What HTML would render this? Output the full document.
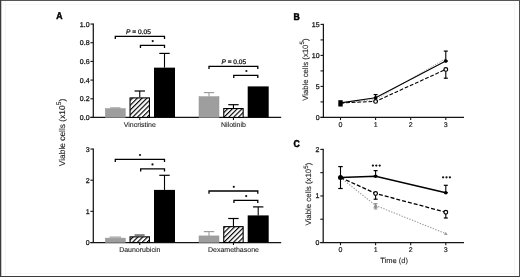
<!DOCTYPE html>
<html><head><meta charset="utf-8"><style>
html,body{margin:0;padding:0;background:#fff;}
body{width:520px;height:277px;overflow:hidden;}
svg{display:block;font-family:"Liberation Sans", sans-serif;filter:grayscale(1);text-rendering:geometricPrecision;}
</style></head><body>
<svg width="520" height="277" viewBox="0 0 520 277">
<defs>
<pattern id="hatch" patternUnits="userSpaceOnUse" width="3.4" height="3.4" patternTransform="translate(-1 0) rotate(45)">
<rect width="3.4" height="3.4" fill="#fff"/><rect width="1.15" height="3.4" fill="#000"/>
</pattern>
</defs>
<rect x="0" y="0" width="520" height="277" fill="#fff"/>
<g stroke-width="1"><line x1="1" y1="4.5" x2="519" y2="4.5" stroke="#f8f8f8"/><line x1="5.5" y1="1" x2="5.5" y2="276" stroke="#f6f6f6"/><line x1="514.5" y1="1" x2="514.5" y2="276" stroke="#f5f5f5"/><line x1="1" y1="273.5" x2="519" y2="273.5" stroke="#f9f9f9"/><line x1="1.5" y1="1" x2="1.5" y2="276" stroke="#c8c8c8"/></g>
<line x1="93.3" y1="23.45" x2="93.3" y2="117.45" stroke="#141414" stroke-width="1.25" />
<line x1="90.4" y1="117.45" x2="93.3" y2="117.45" stroke="#141414" stroke-width="1.1" />
<text x="89.6" y="119.9" font-size="7" text-anchor="end" font-weight="normal" fill="#1e1e1e" stroke="#1e1e1e" stroke-width="0.3" >0.0</text>
<line x1="90.4" y1="98.77" x2="93.3" y2="98.77" stroke="#141414" stroke-width="1.1" />
<text x="89.6" y="101.22" font-size="7" text-anchor="end" font-weight="normal" fill="#1e1e1e" stroke="#1e1e1e" stroke-width="0.3" >0.2</text>
<line x1="90.4" y1="80.09" x2="93.3" y2="80.09" stroke="#141414" stroke-width="1.1" />
<text x="89.6" y="82.54" font-size="7" text-anchor="end" font-weight="normal" fill="#1e1e1e" stroke="#1e1e1e" stroke-width="0.3" >0.4</text>
<line x1="90.4" y1="61.41" x2="93.3" y2="61.41" stroke="#141414" stroke-width="1.1" />
<text x="89.6" y="63.86" font-size="7" text-anchor="end" font-weight="normal" fill="#1e1e1e" stroke="#1e1e1e" stroke-width="0.3" >0.6</text>
<line x1="90.4" y1="42.73" x2="93.3" y2="42.73" stroke="#141414" stroke-width="1.1" />
<text x="89.6" y="45.18" font-size="7" text-anchor="end" font-weight="normal" fill="#1e1e1e" stroke="#1e1e1e" stroke-width="0.3" >0.8</text>
<line x1="90.4" y1="24.05" x2="93.3" y2="24.05" stroke="#141414" stroke-width="1.1" />
<text x="89.6" y="26.5" font-size="7" text-anchor="end" font-weight="normal" fill="#1e1e1e" stroke="#1e1e1e" stroke-width="0.3" >1.0</text>
<line x1="90.4" y1="117.45" x2="281.2" y2="117.45" stroke="#141414" stroke-width="1.25" />
<line x1="93.3" y1="148.45" x2="93.3" y2="242.5" stroke="#141414" stroke-width="1.25" />
<line x1="90.4" y1="242.5" x2="93.3" y2="242.5" stroke="#141414" stroke-width="1.1" />
<text x="89.6" y="244.95" font-size="7" text-anchor="end" font-weight="normal" fill="#1e1e1e" stroke="#1e1e1e" stroke-width="0.3" >0</text>
<line x1="90.4" y1="211.35" x2="93.3" y2="211.35" stroke="#141414" stroke-width="1.1" />
<text x="89.6" y="213.8" font-size="7" text-anchor="end" font-weight="normal" fill="#1e1e1e" stroke="#1e1e1e" stroke-width="0.3" >1</text>
<line x1="90.4" y1="180.2" x2="93.3" y2="180.2" stroke="#141414" stroke-width="1.1" />
<text x="89.6" y="182.65" font-size="7" text-anchor="end" font-weight="normal" fill="#1e1e1e" stroke="#1e1e1e" stroke-width="0.3" >2</text>
<line x1="90.4" y1="149.05" x2="93.3" y2="149.05" stroke="#141414" stroke-width="1.1" />
<text x="89.6" y="151.5" font-size="7" text-anchor="end" font-weight="normal" fill="#1e1e1e" stroke="#1e1e1e" stroke-width="0.3" >3</text>
<line x1="90.4" y1="242.5" x2="281.2" y2="242.5" stroke="#141414" stroke-width="1.25" />
<line x1="115.3" y1="107.9" x2="115.3" y2="108.6" stroke="#9e9e9e" stroke-width="1.1" />
<line x1="110.1" y1="107.9" x2="120.5" y2="107.9" stroke="#9e9e9e" stroke-width="1.2" />
<rect x="105.3" y="108.6" width="20" height="8.85" fill="#9e9e9e" stroke="#979797" stroke-width="0.5"/>
<line x1="139.75" y1="91" x2="139.75" y2="97.35" stroke="#000" stroke-width="1.1" />
<line x1="134.55" y1="91" x2="144.95" y2="91" stroke="#000" stroke-width="1.2" />
<rect x="130.05" y="97.9" width="19.4" height="19.55" fill="url(#hatch)" stroke="#000" stroke-width="1.1"/>
<line x1="164.5" y1="53.4" x2="164.5" y2="67.65" stroke="#000" stroke-width="1.1" />
<line x1="159.3" y1="53.4" x2="169.7" y2="53.4" stroke="#000" stroke-width="1.2" />
<rect x="154" y="67.65" width="21" height="49.8" fill="#000"/>
<path d="M115.3 39V36.3H164.5V39" fill="none" stroke="#000" stroke-width="1.3"/>
<path d="M140.45 48V45.3H164.5V48" fill="none" stroke="#000" stroke-width="1.3"/>
<text x="138.5" y="34.0" font-size="6.6" text-anchor="middle" fill="#1e1e1e" stroke="#1e1e1e" stroke-width="0.3"><tspan font-style="italic">P</tspan> = 0.05</text>
<circle cx="152.7" cy="41.1" r="1.1" fill="#111"/>
<line x1="209" y1="92.6" x2="209" y2="96.6" stroke="#9e9e9e" stroke-width="1.1" />
<line x1="203.8" y1="92.6" x2="214.2" y2="92.6" stroke="#9e9e9e" stroke-width="1.2" />
<rect x="199" y="96.6" width="20" height="20.85" fill="#9e9e9e" stroke="#979797" stroke-width="0.5"/>
<line x1="233.45" y1="104.7" x2="233.45" y2="108" stroke="#000" stroke-width="1.1" />
<line x1="228.25" y1="104.7" x2="238.65" y2="104.7" stroke="#000" stroke-width="1.2" />
<rect x="223.75" y="108.55" width="19.4" height="8.9" fill="url(#hatch)" stroke="#000" stroke-width="1.1"/>
<rect x="247.7" y="86.4" width="21" height="31.05" fill="#000"/>
<path d="M209 69V66.3H257.8V69" fill="none" stroke="#000" stroke-width="1.3"/>
<path d="M233.75 78.1V75.4H257.8V78.1" fill="none" stroke="#000" stroke-width="1.3"/>
<text x="233.8" y="64.0" font-size="6.6" text-anchor="middle" fill="#1e1e1e" stroke="#1e1e1e" stroke-width="0.3"><tspan font-style="italic">P</tspan> = 0.05</text>
<circle cx="246.4" cy="71" r="1.1" fill="#111"/>
<rect x="105.3" y="238.1" width="20" height="4.4" fill="#9e9e9e" stroke="#979797" stroke-width="0.5"/>
<rect x="130.05" y="236.85" width="19.4" height="5.65" fill="url(#hatch)" stroke="#000" stroke-width="1.1"/>
<line x1="164.5" y1="175.3" x2="164.5" y2="189.9" stroke="#000" stroke-width="1.1" />
<line x1="159.3" y1="175.3" x2="169.7" y2="175.3" stroke="#000" stroke-width="1.2" />
<rect x="154" y="189.9" width="21" height="52.6" fill="#000"/>
<rect x="109.5" y="236.4" width="11.6" height="1.8" fill="#b4b4b4"/>
<rect x="134.6" y="234.4" width="10" height="1.3" fill="#4a4a4a"/>
<path d="M115.3 162V159.3H164.5V162" fill="none" stroke="#000" stroke-width="1.3"/>
<path d="M140.65 171.5V168.8H164.5V171.5" fill="none" stroke="#000" stroke-width="1.3"/>
<circle cx="140" cy="155" r="1.1" fill="#111"/>
<circle cx="152.5" cy="164.4" r="1.1" fill="#111"/>
<line x1="209" y1="231.6" x2="209" y2="235.9" stroke="#9e9e9e" stroke-width="1.1" />
<line x1="203.8" y1="231.6" x2="214.2" y2="231.6" stroke="#9e9e9e" stroke-width="1.2" />
<rect x="199" y="235.9" width="20" height="6.6" fill="#9e9e9e" stroke="#979797" stroke-width="0.5"/>
<line x1="233.45" y1="218.5" x2="233.45" y2="226.1" stroke="#000" stroke-width="1.1" />
<line x1="228.25" y1="218.5" x2="238.65" y2="218.5" stroke="#000" stroke-width="1.2" />
<rect x="223.75" y="226.65" width="19.4" height="15.85" fill="url(#hatch)" stroke="#000" stroke-width="1.1"/>
<line x1="258.2" y1="206.9" x2="258.2" y2="215.4" stroke="#000" stroke-width="1.1" />
<line x1="253" y1="206.9" x2="263.4" y2="206.9" stroke="#000" stroke-width="1.2" />
<rect x="247.7" y="215.4" width="21" height="27.1" fill="#000"/>
<path d="M209 193.7V191H257.8V193.7" fill="none" stroke="#000" stroke-width="1.3"/>
<path d="M233.95 203.1V200.4H257.8V203.1" fill="none" stroke="#000" stroke-width="1.3"/>
<circle cx="233.8" cy="186.8" r="1.1" fill="#111"/>
<circle cx="246.2" cy="196.1" r="1.1" fill="#111"/>
<line x1="139.75" y1="117.45" x2="139.75" y2="120.05" stroke="#141414" stroke-width="1.1" />
<text x="139.75" y="127.35" font-size="7" text-anchor="middle" font-weight="normal" fill="#1e1e1e" stroke="#1e1e1e" stroke-width="0.1" >Vincristine</text>
<line x1="233.45" y1="117.45" x2="233.45" y2="120.05" stroke="#141414" stroke-width="1.1" />
<text x="233.45" y="127.35" font-size="7" text-anchor="middle" font-weight="normal" fill="#1e1e1e" stroke="#1e1e1e" stroke-width="0.1" >Nilotinib</text>
<line x1="139.75" y1="242.5" x2="139.75" y2="245.1" stroke="#141414" stroke-width="1.1" />
<text x="139.75" y="252.4" font-size="7" text-anchor="middle" font-weight="normal" fill="#1e1e1e" stroke="#1e1e1e" stroke-width="0.1" >Daunorubicin</text>
<line x1="233.45" y1="242.5" x2="233.45" y2="245.1" stroke="#141414" stroke-width="1.1" />
<text x="233.45" y="252.4" font-size="7" text-anchor="middle" font-weight="normal" fill="#1e1e1e" stroke="#1e1e1e" stroke-width="0.1" >Dexamethasone</text>
<text transform="translate(65 132.5) rotate(-90)" font-size="8.4" text-anchor="middle" fill="#1e1e1e" stroke="#1e1e1e" stroke-width="0.12">Viable cells (x10<tspan font-size="6.72" dy="-3.78">5</tspan><tspan dy="3.78">)</tspan></text>
<text transform="translate(56.3 19.3) scale(0.88 1)" font-size="9.9" font-weight="bold" fill="#000" stroke="#000" stroke-width="0.5">A</text>
<text transform="translate(293.6 19.7) scale(0.88 1)" font-size="9.9" font-weight="bold" fill="#000" stroke="#000" stroke-width="0.5">B</text>
<text transform="translate(293.5 147.1) scale(0.88 1)" font-size="9.9" font-weight="bold" fill="#000" stroke="#000" stroke-width="0.5">C</text>
<line x1="323.4" y1="23.8" x2="323.4" y2="117.4" stroke="#141414" stroke-width="1.25" />
<line x1="320.5" y1="117.4" x2="323.4" y2="117.4" stroke="#141414" stroke-width="1.1" />
<text x="319.6" y="119.85" font-size="7" text-anchor="end" font-weight="normal" fill="#1e1e1e" stroke="#1e1e1e" stroke-width="0.3" >0</text>
<line x1="320.5" y1="101.9" x2="323.4" y2="101.9" stroke="#141414" stroke-width="1.1" />
<line x1="320.5" y1="86.4" x2="323.4" y2="86.4" stroke="#141414" stroke-width="1.1" />
<text x="319.6" y="88.85" font-size="7" text-anchor="end" font-weight="normal" fill="#1e1e1e" stroke="#1e1e1e" stroke-width="0.3" >5</text>
<line x1="320.5" y1="70.9" x2="323.4" y2="70.9" stroke="#141414" stroke-width="1.1" />
<line x1="320.5" y1="55.4" x2="323.4" y2="55.4" stroke="#141414" stroke-width="1.1" />
<text x="319.6" y="57.85" font-size="7" text-anchor="end" font-weight="normal" fill="#1e1e1e" stroke="#1e1e1e" stroke-width="0.3" >10</text>
<line x1="320.5" y1="39.9" x2="323.4" y2="39.9" stroke="#141414" stroke-width="1.1" />
<line x1="320.5" y1="24.4" x2="323.4" y2="24.4" stroke="#141414" stroke-width="1.1" />
<text x="319.6" y="26.85" font-size="7" text-anchor="end" font-weight="normal" fill="#1e1e1e" stroke="#1e1e1e" stroke-width="0.3" >15</text>
<line x1="320.5" y1="117.4" x2="464" y2="117.4" stroke="#141414" stroke-width="1.25" />
<line x1="340.5" y1="117.4" x2="340.5" y2="120.1" stroke="#141414" stroke-width="1.1" />
<text x="340.5" y="127" font-size="7" text-anchor="middle" font-weight="normal" fill="#1e1e1e" stroke="#1e1e1e" stroke-width="0.2" >0</text>
<line x1="375.6" y1="117.4" x2="375.6" y2="120.1" stroke="#141414" stroke-width="1.1" />
<text x="375.6" y="127" font-size="7" text-anchor="middle" font-weight="normal" fill="#1e1e1e" stroke="#1e1e1e" stroke-width="0.2" >1</text>
<line x1="410.7" y1="117.4" x2="410.7" y2="120.1" stroke="#141414" stroke-width="1.1" />
<text x="410.7" y="127" font-size="7" text-anchor="middle" font-weight="normal" fill="#1e1e1e" stroke="#1e1e1e" stroke-width="0.2" >2</text>
<line x1="445.8" y1="117.4" x2="445.8" y2="120.1" stroke="#141414" stroke-width="1.1" />
<text x="445.8" y="127" font-size="7" text-anchor="middle" font-weight="normal" fill="#1e1e1e" stroke="#1e1e1e" stroke-width="0.2" >3</text>
<text transform="translate(307.6 69.7) rotate(-90)" font-size="7.75" text-anchor="middle" fill="#1e1e1e" stroke="#1e1e1e" stroke-width="0.12">Viable cells (x10<tspan font-size="6.2" dy="-3.49">5</tspan><tspan dy="3.49">)</tspan></text>
<line x1="323.2" y1="148.8" x2="323.2" y2="242.5" stroke="#141414" stroke-width="1.25" />
<line x1="320.3" y1="242.5" x2="323.2" y2="242.5" stroke="#141414" stroke-width="1.1" />
<text x="319.4" y="244.95" font-size="7" text-anchor="end" font-weight="normal" fill="#1e1e1e" stroke="#1e1e1e" stroke-width="0.3" >0</text>
<line x1="320.3" y1="219.22" x2="323.2" y2="219.22" stroke="#141414" stroke-width="1.1" />
<line x1="320.3" y1="195.95" x2="323.2" y2="195.95" stroke="#141414" stroke-width="1.1" />
<text x="319.4" y="198.4" font-size="7" text-anchor="end" font-weight="normal" fill="#1e1e1e" stroke="#1e1e1e" stroke-width="0.3" >1</text>
<line x1="320.3" y1="172.68" x2="323.2" y2="172.68" stroke="#141414" stroke-width="1.1" />
<line x1="320.3" y1="149.4" x2="323.2" y2="149.4" stroke="#141414" stroke-width="1.1" />
<text x="319.4" y="151.85" font-size="7" text-anchor="end" font-weight="normal" fill="#1e1e1e" stroke="#1e1e1e" stroke-width="0.3" >2</text>
<line x1="320.3" y1="242.5" x2="464" y2="242.5" stroke="#141414" stroke-width="1.25" />
<line x1="340.5" y1="242.5" x2="340.5" y2="245.2" stroke="#141414" stroke-width="1.1" />
<text x="340.5" y="252.1" font-size="7" text-anchor="middle" font-weight="normal" fill="#1e1e1e" stroke="#1e1e1e" stroke-width="0.2" >0</text>
<line x1="375.6" y1="242.5" x2="375.6" y2="245.2" stroke="#141414" stroke-width="1.1" />
<text x="375.6" y="252.1" font-size="7" text-anchor="middle" font-weight="normal" fill="#1e1e1e" stroke="#1e1e1e" stroke-width="0.2" >1</text>
<line x1="410.7" y1="242.5" x2="410.7" y2="245.2" stroke="#141414" stroke-width="1.1" />
<text x="410.7" y="252.1" font-size="7" text-anchor="middle" font-weight="normal" fill="#1e1e1e" stroke="#1e1e1e" stroke-width="0.2" >2</text>
<line x1="445.8" y1="242.5" x2="445.8" y2="245.2" stroke="#141414" stroke-width="1.1" />
<text x="445.8" y="252.1" font-size="7" text-anchor="middle" font-weight="normal" fill="#1e1e1e" stroke="#1e1e1e" stroke-width="0.2" >3</text>
<text x="394.1" y="263.3" font-size="7.5" text-anchor="middle" font-weight="normal" fill="#1e1e1e" stroke="#1e1e1e" stroke-width="0.1" >Time (d)</text>
<text transform="translate(311.3 194.1) rotate(-90)" font-size="7.8" text-anchor="middle" fill="#1e1e1e" stroke="#1e1e1e" stroke-width="0.12">Viable cells (x10<tspan font-size="6.24" dy="-3.51">5</tspan><tspan dy="3.51">)</tspan></text>
<path d="M340.5 103 L375.6 99.5 L445.8 58.6" fill="none" stroke="#a0a0a0" stroke-width="1.0" stroke-dasharray="1.3 1.3"/>
<path d="M340.5 103 L375.6 101.4 L445.8 69.4" fill="none" stroke="#000" stroke-width="1.1" stroke-dasharray="3.8 1.8"/>
<path d="M340.5 102.9 L375.6 97.8 L445.8 61.1" fill="none" stroke="#000" stroke-width="1.15" />
<line x1="375.6" y1="94.6" x2="375.6" y2="101.4" stroke="#000" stroke-width="1.1" />
<line x1="373.6" y1="94.6" x2="377.6" y2="94.6" stroke="#000" stroke-width="1.2" />
<line x1="373.6" y1="101.4" x2="377.6" y2="101.4" stroke="#000" stroke-width="1.2" />
<line x1="445.8" y1="51.1" x2="445.8" y2="61.1" stroke="#000" stroke-width="1.1" />
<line x1="443.8" y1="51.1" x2="447.8" y2="51.1" stroke="#000" stroke-width="1.2" />
<line x1="443.8" y1="61.1" x2="447.8" y2="61.1" stroke="#000" stroke-width="1.2" />
<line x1="445.8" y1="69.4" x2="445.8" y2="78.2" stroke="#000" stroke-width="1.1" />
<line x1="443.8" y1="69.4" x2="447.8" y2="69.4" stroke="#000" stroke-width="1.2" />
<line x1="443.8" y1="78.2" x2="447.8" y2="78.2" stroke="#000" stroke-width="1.2" />
<rect x="338.3" y="100.2" width="4.4" height="6.3" fill="#000"/>
<circle cx="375.6" cy="97.8" r="1.8" fill="#000"/>
<circle cx="445.8" cy="61.1" r="1.8" fill="#000"/>
<circle cx="375.6" cy="101.4" r="1.85" fill="#fff" stroke="#000" stroke-width="1.2"/>
<circle cx="445.8" cy="69.4" r="1.85" fill="#fff" stroke="#000" stroke-width="1.2"/>
<path d="M340.5 177.5 L375.6 205.5 L445.8 233.6" fill="none" stroke="#999" stroke-width="1.05" stroke-dasharray="1.4 1.4"/>
<path d="M340.5 177.5 L375.6 193.5 L445.8 212.2" fill="none" stroke="#000" stroke-width="1.3" stroke-dasharray="4 2"/>
<path d="M340.5 177.5 L375.6 176.2 L445.8 192.7" fill="none" stroke="#000" stroke-width="1.4" />
<line x1="340.5" y1="166.6" x2="340.5" y2="188.5" stroke="#000" stroke-width="1.1" />
<line x1="338.25" y1="166.6" x2="342.75" y2="166.6" stroke="#000" stroke-width="1.2" />
<line x1="338.25" y1="188.5" x2="342.75" y2="188.5" stroke="#000" stroke-width="1.2" />
<line x1="375.6" y1="170.6" x2="375.6" y2="176.2" stroke="#000" stroke-width="1.1" />
<line x1="373.6" y1="170.6" x2="377.6" y2="170.6" stroke="#000" stroke-width="1.2" />
<line x1="373.6" y1="176.2" x2="377.6" y2="176.2" stroke="#000" stroke-width="1.2" />
<line x1="445.8" y1="185.3" x2="445.8" y2="192.7" stroke="#000" stroke-width="1.1" />
<line x1="443.8" y1="185.3" x2="447.8" y2="185.3" stroke="#000" stroke-width="1.2" />
<line x1="443.8" y1="192.7" x2="447.8" y2="192.7" stroke="#000" stroke-width="1.2" />
<line x1="375.6" y1="193.5" x2="375.6" y2="199.2" stroke="#000" stroke-width="1.1" />
<line x1="373.6" y1="193.5" x2="377.6" y2="193.5" stroke="#000" stroke-width="1.2" />
<line x1="373.6" y1="199.2" x2="377.6" y2="199.2" stroke="#000" stroke-width="1.2" />
<line x1="445.8" y1="212.2" x2="445.8" y2="218" stroke="#000" stroke-width="1.1" />
<line x1="443.8" y1="212.2" x2="447.8" y2="212.2" stroke="#000" stroke-width="1.2" />
<line x1="443.8" y1="218" x2="447.8" y2="218" stroke="#000" stroke-width="1.2" />
<line x1="375.6" y1="203.6" x2="375.6" y2="208.9" stroke="#999" stroke-width="1.2" />
<line x1="373.8" y1="203.6" x2="377.4" y2="203.6" stroke="#999" stroke-width="1.2" />
<line x1="373.8" y1="208.9" x2="377.4" y2="208.9" stroke="#999" stroke-width="1.2" />
<circle cx="340.5" cy="177.5" r="2.5" fill="#000"/>
<circle cx="375.6" cy="176.2" r="1.8" fill="#000"/>
<circle cx="445.8" cy="192.7" r="1.8" fill="#000"/>
<circle cx="375.6" cy="193.5" r="1.85" fill="#fff" stroke="#000" stroke-width="1.2"/>
<circle cx="445.8" cy="212.2" r="1.85" fill="#fff" stroke="#000" stroke-width="1.2"/>
<path d="M375.6 203.6L377.9 207.74L373.3 207.74Z" fill="#8a8a8a"/>
<path d="M445.8 231.7L447.6 234.94L444 234.94Z" fill="#9a9a9a"/>
<circle cx="372.9" cy="165.6" r="1.15" fill="#111"/>
<circle cx="376.3" cy="165.6" r="1.15" fill="#111"/>
<circle cx="379.7" cy="165.6" r="1.15" fill="#111"/>
<circle cx="443.1" cy="177.3" r="1.15" fill="#111"/>
<circle cx="446.5" cy="177.3" r="1.15" fill="#111"/>
<circle cx="449.9" cy="177.3" r="1.15" fill="#111"/>
<line x1="0" y1="0.5" x2="520" y2="0.5" stroke="#555" stroke-width="1"/><line x1="0" y1="276.5" x2="520" y2="276.5" stroke="#3c3c3c" stroke-width="1"/><line x1="0.5" y1="0" x2="0.5" y2="277" stroke="#3a3a3a" stroke-width="1"/><line x1="519.5" y1="0" x2="519.5" y2="277" stroke="#505050" stroke-width="1"/>
</svg>
</body></html>
